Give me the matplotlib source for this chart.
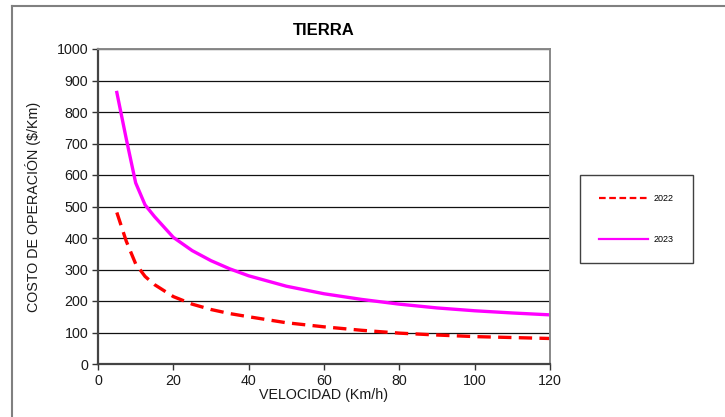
import matplotlib
matplotlib.use('Agg')
import matplotlib.pyplot as plt
from matplotlib.lines import Line2D

plt.rcParams['font.family'] = ['Liberation Sans', 'DejaVu Sans']

# speeds (Km/h) and operating cost ($/Km)
velocidad = [5, 7.5, 10, 12.5, 15, 20, 25, 30, 35, 40, 50, 60, 70, 80, 90, 100, 110, 120]
costo_2022 = [481, 390, 318, 278, 252, 214, 190, 173, 160, 150, 131, 118, 107, 98, 92, 87, 84, 81]
costo_2023 = [862, 715, 575, 505, 468, 402, 360, 328, 302, 280, 247, 223, 205, 190, 178, 169, 162, 156]

titulo = 'TIERRA'
x_label = 'VELOCIDAD (Km/h)'
y_label = 'COSTO DE OPERACIÓN ($/Km)'
series_labels = ['2022', '2023']

fig = plt.figure(figsize=(7.25, 4.17), dpi=100)
ax = fig.add_axes([98 / 725, 1 - 364 / 417, (550 - 98) / 725, (364 - 49) / 417])

ax.plot(velocidad, costo_2022, color='#ff0000', lw=2.4, ls=(0, (4.0, 2.2)))
ax.plot(velocidad, costo_2023, color='#ff00ff', lw=2.4)

ax.set_xlim(0, 120)
ax.set_ylim(0, 1000)
ax.set_xticks(range(0, 121, 20))
ax.set_yticks(range(0, 1001, 100))
ax.yaxis.grid(True, color='#111111', lw=0.9)
ax.set_axisbelow(True)

for side in ['left', 'bottom']:
    ax.spines[side].set_color('#444444')
    ax.spines[side].set_linewidth(1.6)
for side in ['top', 'right']:
    ax.spines[side].set_color('#888888')
    ax.spines[side].set_linewidth(1.4)

ax.tick_params(axis='both', direction='out', length=4, width=1, color='#333333',
               labelsize=10.3, labelcolor='#1a1a1a', pad=3)
ax.set_title(titulo, fontsize=12, fontweight='bold', pad=10)
ax.set_xlabel(x_label, fontsize=10.3, labelpad=0, color='#1a1a1a')
ax.set_ylabel(y_label, fontsize=10.3, labelpad=11, color='#1a1a1a')

# legend keys are drawn thinner than the series, as in the reference
h1 = Line2D([], [], color='#ff0000', lw=1.6, ls=(0, (3.0, 1.6)))
h2 = Line2D([], [], color='#ff00ff', lw=1.6)
leg = fig.legend(handles=[h1, h2], labels=series_labels, loc='center',
                 bbox_to_anchor=(636.5 / 725, 1 - 219 / 417),
                 fontsize=6.5, frameon=True, fancybox=False, edgecolor='#111111',
                 borderpad=2.1, labelspacing=3.5, handlelength=5.4, handletextpad=0.6)
leg.get_frame().set_linewidth(1.0)

# outer chart border (only left and top visible in the reference)
fig.add_artist(Line2D([12 / 725, 12 / 725], [0, 1 - 6 / 417], color='#808080', lw=1.5))
fig.add_artist(Line2D([12 / 725, 1], [1 - 6 / 417, 1 - 6 / 417], color='#808080', lw=1.5))

fig.savefig('out.png', dpi=100)
